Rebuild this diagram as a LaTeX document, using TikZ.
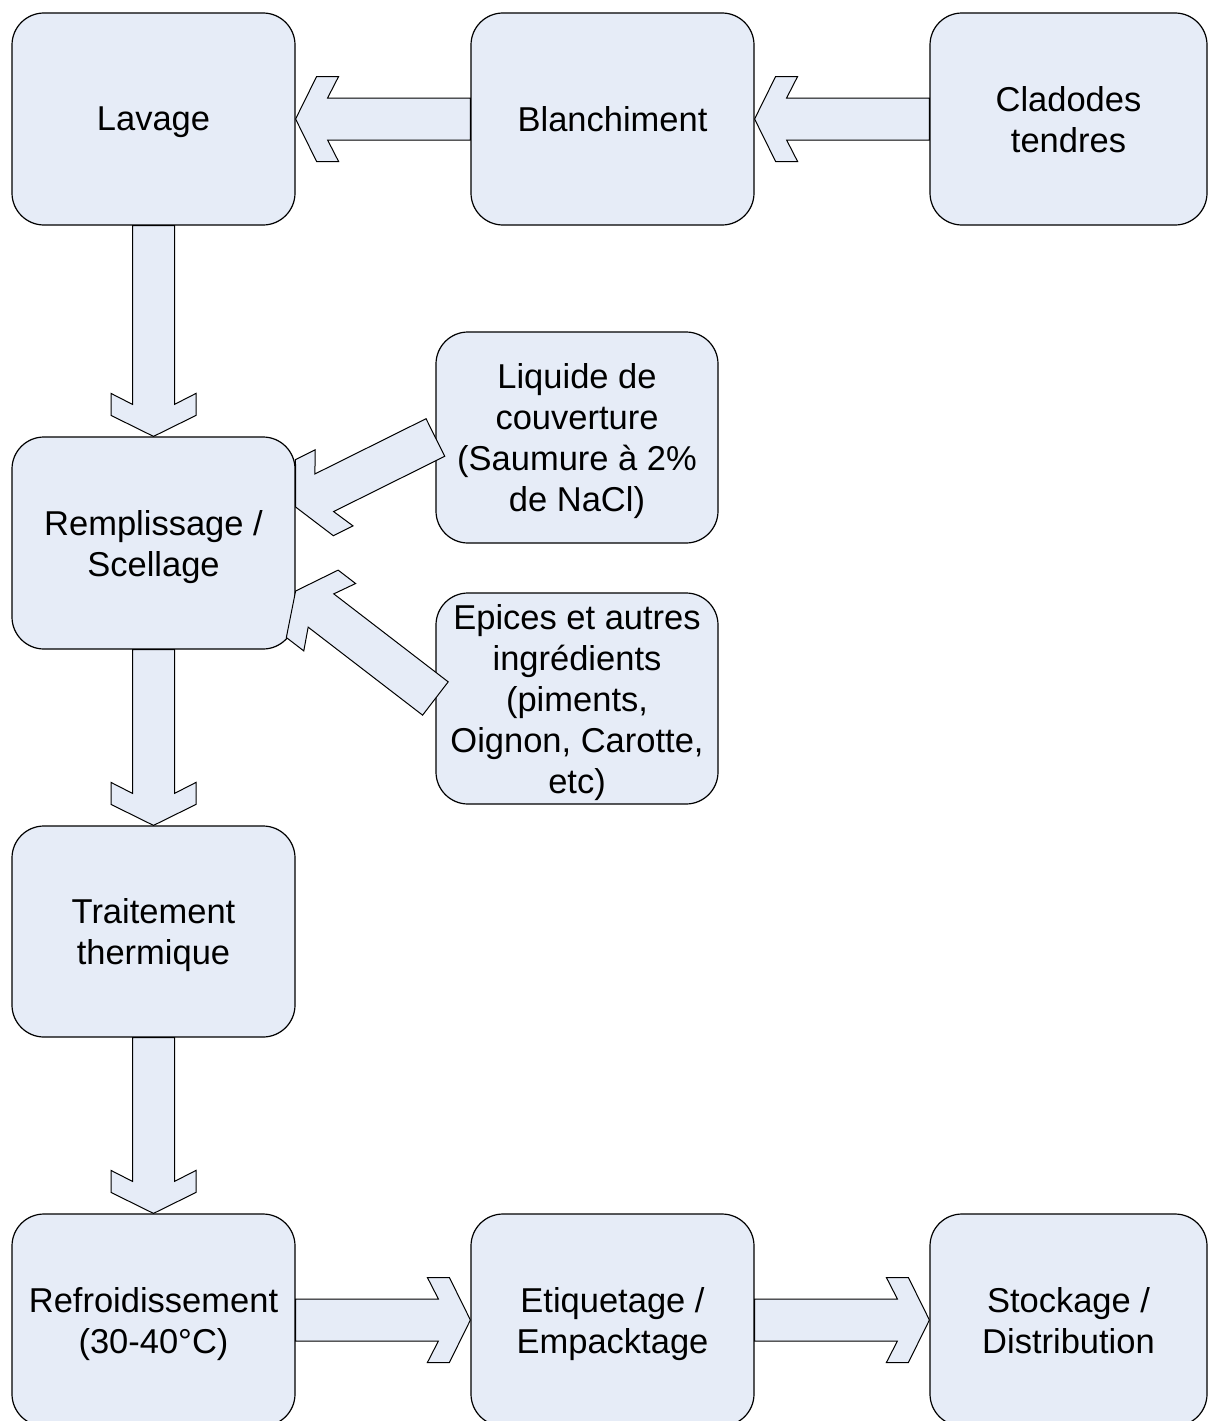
\documentclass[tikz,border=0pt]{standalone}
\usepackage{fontspec}
\setmainfont{Liberation Sans}
\usetikzlibrary{calc}
\definecolor{boxfill}{RGB}{230,236,247}
\tikzset{
  procbox/.style={draw=black, line width=1.2pt, fill=boxfill, rounded corners=32pt,
    minimum width=283pt, minimum height=212pt, inner sep=0pt, align=center,
    text depth=0pt, font=\fontsize{34.5}{41}\selectfont},
  blockarr/.style={draw=black, line width=1pt, fill=boxfill, line join=miter},
}
\newcommand\blockarrow[2]{%
  \path[blockarr] let \p1=(#1), \p2=(#2),
      \n1={atan2(\y2-\y1,\x2-\x1)}, \n2={veclen(\x2-\x1,\y2-\y1)} in
    [shift={(\p1)}, rotate=\n1]
    (0pt,0pt) -- (21pt,42.5pt) -- (43pt,42.5pt) -- (32pt,21pt) -- ({\n2+0pt},21pt)
    -- ({\n2+0pt},-21pt) -- (32pt,-21pt) -- (43pt,-42.5pt) -- (21pt,-42.5pt) -- cycle;}
\begin{document}
\begin{tikzpicture}[x=1pt,y=-1pt]
\useasboundingbox (0,0) rectangle (1208,1421);
\clip (0,0) rectangle (1208,1421);
\fill[white] (0,0) rectangle (1208,1421);
% boxes
\node[procbox] (lav) at (153.5,119) {Lavage};
\node[procbox] (bla) at (612.5,119) {Blanchiment};
\node[procbox, minimum width=277pt] (cla) at (1068.5,119) {Cladodes\\tendres};
\node[procbox] (rem) at (153.5,543) {Remplissage /\\Scellage};
\node[procbox, minimum width=282pt, minimum height=211pt] (liq) at (577,437.5) {Liquide de\\couverture\\(Saumure à 2\%\\de NaCl)};
\node[procbox, minimum width=282pt, minimum height=211pt] (epi) at (577,698.5) {Epices et autres\\ingrédients\\(piments,\\Oignon, Carotte,\\etc)};
\node[procbox, minimum height=211pt] (tra) at (153.5,931.5) {Traitement\\thermique};
\node[procbox] (ref) at (153.5,1320) {Refroidissement\\(30-40°C)};
\node[procbox] (eti) at (612.5,1320) {Etiquetage /\\Empacktage};
\node[procbox, minimum width=277pt] (sto) at (1068.5,1320) {Stockage /\\Distribution};
% block arrows
\blockarrow{lav.east}{bla.west}
\blockarrow{bla.east}{cla.west}
\blockarrow{rem.north}{lav.south}
\blockarrow{tra.north}{rem.south}
\blockarrow{ref.north}{tra.south}
\blockarrow{eti.west}{ref.east}
\blockarrow{sto.west}{eti.east}
\blockarrow{$(rem.east)+(0,-36)$}{liq.west}
\blockarrow{$(rem.east)+(0,48)$}{epi.west}
\end{tikzpicture}
\end{document}
